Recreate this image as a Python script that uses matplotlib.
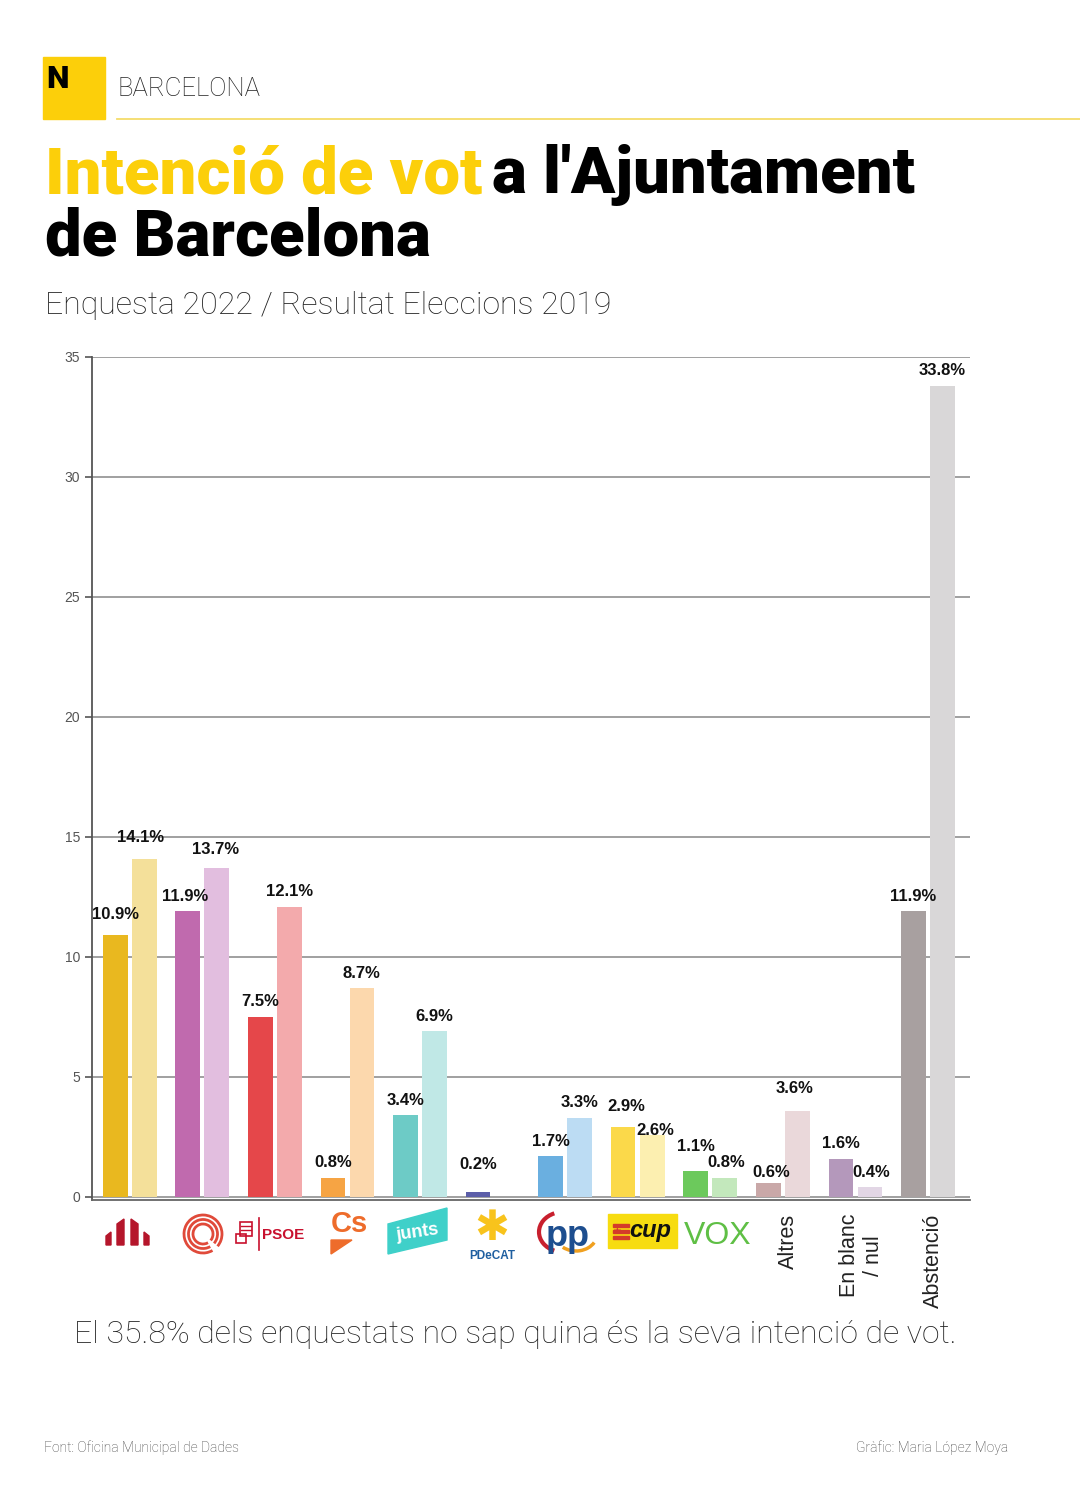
import numpy as np
import matplotlib.pyplot as plt
from matplotlib.patches import Rectangle, Polygon, Arc
from matplotlib.transforms import IdentityTransform

# dades
partits = ["ERC", "BComú", "PSC", "Cs", "Junts", "PDeCAT", "PP", "CUP", "Vox",
           "Altres", "En blanc\n/ nul", "Abstenció"]
enquesta_2022 = [10.9, 11.9, 7.5, 0.8, 3.4, 0.2, 1.7, 2.9, 1.1, 0.6, 1.6, 11.9]
eleccions_2019 = [14.1, 13.7, 12.1, 8.7, 6.9, np.nan, 3.3, 2.6, 0.8, 3.6, 0.4, 33.8]
colors_2022 = ["#e9b81f", "#c06aae", "#e5474a", "#f6a444", "#6dcbc6", "#5c5ea8",
               "#6aafe0", "#fbd94a", "#6cc95c", "#c9a8a8", "#b498bb", "#a8a0a0"]
colors_2019 = ["#f4e09a", "#e2bedf", "#f3aaac", "#fcd8ad", "#c0e8e6", "#ffffff",
               "#bcdcf3", "#fcefb0", "#c3e8bc", "#ead8da", "#e2d6e5", "#d9d7d8"]

# petits ajustos (en píxels) de les etiquetes que es trepitjarien
ajust_2022 = {0: (0, 6), 1: (-3, 0), 5: (0, 13), 7: (3, 6), 8: (0, 9), 9: (3, -5)}
ajust_2019 = {0: (-4, 6), 1: (-1, 4), 7: (3, -11), 8: (2, 0), 9: (-3, 7), 10: (1, 0)}

YELLOW = "#fccf0a"
plt.rcParams['font.family'] = ['Liberation Sans', 'DejaVu Sans']

fig = plt.figure(figsize=(10.8, 15), dpi=100)
fig.patch.set_facecolor("white")

# eix del gràfic
ax = fig.add_axes([92/1080, (1500-1200)/1500, (970-92)/1080, (1200-357)/1500])
x = np.arange(len(partits))
w = 0.34
off = 0.2
b1 = ax.bar(x - off, enquesta_2022, w, color=colors_2022, zorder=3)
b2 = ax.bar(x + off, eleccions_2019, w, color=colors_2019, zorder=3)

for rects, vals, ajust in [(b1, enquesta_2022, ajust_2022), (b2, eleccions_2019, ajust_2019)]:
    for i, (r, v) in enumerate(zip(rects, vals)):
        if np.isnan(v):
            continue
        dx, dy = ajust.get(i, (0, 0))
        ax.annotate(f"{v}%", (r.get_x() + r.get_width()/2, v),
                    xytext=(dx * 0.72, (15 + dy) * 0.72),
                    textcoords="offset points", ha="center", va="center",
                    fontsize=12, fontweight="bold", color="#111111", zorder=5)

ax.set_xlim(-0.52, 11.58)
ax.set_ylim(-0.125, 35)
ax.set_yticks(range(0, 36, 5))
ax.tick_params(axis="y", labelsize=10, colors="#555555", length=5, width=1.2)
ax.tick_params(axis="x", length=0)
ax.set_xticks([])
ax.grid(axis="y", color="#999999", linewidth=1.3, zorder=0)
for s in ["top", "right"]:
    ax.spines[s].set_visible(False)
ax.spines["left"].set_color("#555555")
ax.spines["left"].set_linewidth(1.3)
ax.spines["bottom"].set_color("#666666")
ax.spines["bottom"].set_linewidth(1.3)

# etiquetes rotades
for i in [9, 10, 11]:
    ax.text(i + 0.08, -0.7, partits[i], rotation=90, ha="center", va="top",
            fontsize=15.5, color="#222222", multialignment="center",
            clip_on=False)

# capa de decoració en píxels
deco = fig.add_axes([0, 0, 1, 1], zorder=-1)
deco.set_xlim(0, 1080)
deco.set_ylim(1500, 0)
deco.axis("off")

deco.add_patch(Rectangle((43, 57), 62, 62, color=YELLOW))
deco.text(46, 88, "N", fontsize=23, fontweight="black", family="Roboto", color="black", va="baseline")
deco.text(117, 96, "BARCELONA", fontsize=18.5, family="Roboto", fontweight="light", color="#222222", va="baseline")
deco.plot([117, 1080], [118.5, 118.5], color="#f5dc6a", lw=1.3)

t1 = deco.text(45, 193, "Intenció de vot", fontsize=47, family="Roboto", fontweight="black",
               color=YELLOW, va="baseline")
fig.canvas.draw()
bb = t1.get_window_extent()
t2 = deco.text(bb.x1 + 10, 1500 - 193, "a l'Ajuntament", fontsize=47, family="Roboto",
               fontweight="black", color="black", va="baseline")
t2.set_transform(IdentityTransform())
deco.text(45, 255, "de Barcelona", fontsize=47, family="Roboto", fontweight="black",
          color="black", va="baseline")

deco.text(45, 314, "Enquesta 2022 / Resultat Eleccions 2019", fontsize=23, family="Roboto",
          fontweight="light", color="#222222", va="baseline")

deco.text(515, 1343, "El 35.8% dels enquestats no sap quina és la seva intenció de vot.",
          fontsize=23, family="Roboto", fontweight="light", color="#222222",
          ha="center", va="baseline")
deco.text(44, 1452, "Font: Oficina Municipal de Dades", fontsize=10, family="Roboto",
          fontweight="light", color="#444444", va="baseline")
deco.text(1008, 1452, "Gràfic: Maria López Moya", fontsize=10, family="Roboto",
          fontweight="light", color="#444444", ha="right", va="baseline")

# logotips aproximats
red = "#b5162b"
deco.add_patch(Polygon([(106, 1245), (106, 1236), (111, 1232), (111, 1245)], color=red))
deco.add_patch(Polygon([(117, 1245), (117, 1224), (124, 1219), (124, 1245)], color=red))
deco.add_patch(Polygon([(131, 1245), (131, 1219), (138, 1224), (138, 1245)], color=red))
deco.add_patch(Polygon([(144, 1245), (144, 1232), (149, 1236), (149, 1245)], color=red))

for r in [19, 14.5, 10]:
    deco.add_patch(Arc((203, 1234), 2*r, 2*r, theta1=60, theta2=400, color="#e04a3a", lw=2))

# PSOE: puny i rosa esquematitzats
psoe = "#c8102e"
deco.add_patch(Rectangle((240, 1222), 12, 14, fill=False, ec=psoe, lw=1.2))
deco.add_patch(Rectangle((236, 1234), 10, 9, fill=False, ec=psoe, lw=1.2))
for yy in [1226, 1230]:
    deco.plot([241, 251], [yy, yy], color=psoe, lw=1)
deco.plot([259, 259], [1218, 1250], color=psoe, lw=1.2)
deco.text(262, 1235, "PSOE", fontsize=11, fontweight="bold", color=psoe, va="center")

deco.text(349, 1224, "Cs", fontsize=21, fontweight="bold", color="#ee6c2b", ha="center", va="center")
deco.add_patch(Polygon([(331, 1240), (352, 1240), (331, 1254)], color="#ee6c2b"))

deco.add_patch(Polygon([(388, 1224), (447, 1208), (447, 1240), (388, 1254)], color="#3fd0c9"))
deco.text(417, 1233, "junts", fontsize=13, fontweight="bold", color="white", ha="center",
          va="center", rotation=8)

deco.text(492, 1228, "✱", fontsize=30, color="#f8c31c", ha="center", va="center", family="DejaVu Sans")
deco.text(492, 1256, "PDeCAT", fontsize=8.5, fontweight="bold", color="#1f5fa0", ha="center", va="center")

deco.add_patch(Arc((563, 1232), 48, 40, theta1=115, theta2=245, color="#c8202e", lw=3))
deco.add_patch(Arc((576, 1234), 42, 34, theta1=25, theta2=135, color="#f0a020", lw=2.5))
deco.text(568, 1237, "pp", fontsize=26, fontweight="bold", color="#1d4e8f", ha="center", va="center")

deco.add_patch(Rectangle((608, 1214), 69, 34, color="#f7dc10"))
for yy in [1224, 1230, 1236]:
    deco.add_patch(Rectangle((613, yy), 16, 2.5, color="#d43b2a"))
deco.text(617, 1231, "★", fontsize=7, color="#d43b2a", ha="center", va="center", family="DejaVu Sans")
deco.text(650, 1230, "cup", fontsize=17, fontweight="bold", style="italic", color="#111111",
          ha="center", va="center")

deco.text(718, 1236, "VOX", fontsize=23, color="#5fbf45", ha="center", va="center",
          family="Liberation Sans")

fig.savefig("out.png", dpi=100, facecolor="white")
